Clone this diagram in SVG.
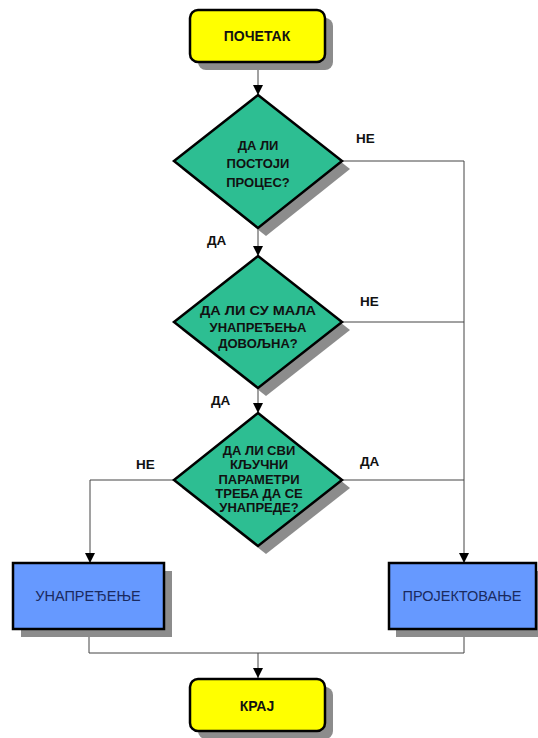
<svg xmlns="http://www.w3.org/2000/svg" width="538" height="738" viewBox="0 0 538 738">
<defs>
<style>
.term{fill:#FFFF00;stroke:#000;stroke-width:2.5}
.dec{fill:#2DBE92;stroke:#000;stroke-width:2.5}
.proc{fill:#6699FF;stroke:#000;stroke-width:2.5}
.sh{fill:#8C8C8C}
.t{font-family:"Liberation Sans",Arial,sans-serif;font-size:13px;font-weight:bold;fill:#111;text-anchor:middle}
.tt{font-size:14px}
.tp{font-family:"Liberation Sans",Arial,sans-serif;font-size:14.5px;fill:#1a2a60;text-anchor:middle}
.lbl{font-family:"Liberation Sans",Arial,sans-serif;font-size:13.5px;font-weight:bold;fill:#111}
.ln{fill:none;stroke:#444;stroke-width:1}
</style>
<marker id="arr" viewBox="0 0 10 10" refX="10" refY="5" markerWidth="10" markerHeight="10" markerUnits="userSpaceOnUse" orient="auto">
<path d="M0,0 L10,5 L0,10 z" fill="#000"/>
</marker>
</defs>
<rect width="538" height="738" fill="#fff"/>

<g id="connectors">
<path class="ln" d="M258,62 V95" marker-end="url(#arr)"/>
<path class="ln" d="M258,228 V256" marker-end="url(#arr)"/>
<path class="ln" d="M258,388 V413" marker-end="url(#arr)"/>
<path class="ln" d="M342,161 H464 V563" marker-end="url(#arr)"/>
<path class="ln" d="M342,322 H464"/>
<path class="ln" d="M342,480 H464"/>
<path class="ln" d="M173,480 H90 V563" marker-end="url(#arr)"/>
<path class="ln" d="M89,629 V653 H464 V629"/>
<path class="ln" d="M258,653 V678" marker-end="url(#arr)"/>
<text class="lbl" x="356" y="143">НЕ</text>
<text class="lbl" x="207" y="245">ДА</text>
<text class="lbl" x="360" y="306">НЕ</text>
<text class="lbl" x="211" y="405">ДА</text>
<text class="lbl" x="136" y="469">НЕ</text>
<text class="lbl" x="360" y="466">ДА</text>
</g>

<g id="start">
<rect class="sh" x="198" y="18" width="135" height="52" rx="8"/>
<rect class="term" x="190" y="10" width="135" height="52" rx="8"/>
<text class="t tt" x="257" y="41">ПОЧЕТАК</text>
</g>

<g id="d1">
<polygon class="sh" points="266,103 350,169 266,236 182,169"/>
<polygon class="dec" points="258,95 342,161 258,228 174,161"/>
<text class="t" x="258" y="150">ДА ЛИ</text>
<text class="t" x="258" y="168">ПОСТОЈИ</text>
<text class="t" x="258" y="187">ПРОЦЕС?</text>
</g>

<g id="d2">
<polygon class="sh" points="266,264 350,330 266,396 182,330"/>
<polygon class="dec" points="258,256 342,322 258,388 174,322"/>
<text class="t" x="258" y="315" textLength="116" lengthAdjust="spacingAndGlyphs">ДА ЛИ СУ МАЛА</text>
<text class="t" x="258" y="332">УНАПРЕЂЕЊА</text>
<text class="t" x="258" y="348">ДОВОЉНА?</text>
</g>

<g id="d3">
<polygon class="sh" points="266,421 350,488 266,554 182,488"/>
<polygon class="dec" points="258,413 342,480 258,546 174,480"/>
<text class="t" x="259" y="455">ДА ЛИ СВИ</text>
<text class="t" x="259" y="469">КЉУЧНИ</text>
<text class="t" x="259" y="484">ПАРАМЕТРИ</text>
<text class="t" x="259" y="498">ТРЕБА ДА СЕ</text>
<text class="t" x="259" y="512">УНАПРЕДЕ?</text>
</g>

<g id="improve">
<rect class="sh" x="21" y="571" width="151" height="66"/>
<rect class="proc" x="13" y="563" width="151" height="66"/>
<text class="tp" x="88" y="601">УНАПРЕЂЕЊЕ</text>
</g>

<g id="design">
<rect class="sh" x="396" y="571" width="142" height="66"/>
<rect class="proc" x="389" y="563" width="147" height="66"/>
<text class="tp" x="462" y="601">ПРОЈЕКТОВАЊЕ</text>
</g>

<g id="end">
<rect class="sh" x="198" y="687" width="135" height="52" rx="8"/>
<rect class="term" x="190" y="679" width="135" height="52" rx="8"/>
<text class="t tt" x="257" y="711">КРАЈ</text>
</g>
</svg>
